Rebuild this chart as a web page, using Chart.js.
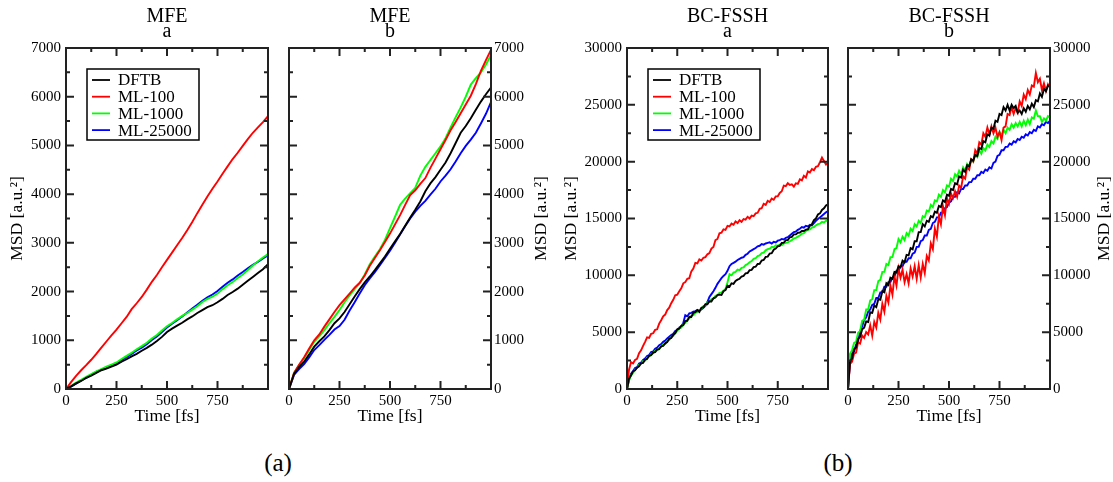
<!DOCTYPE html>
<html>
<head>
<meta charset="utf-8">
<script src="https://cdn.jsdelivr.net/npm/chart.js@4.4.1/dist/chart.umd.min.js"></script>
<style>
  body { margin: 0; background: #fff; }
  #wrap { position: relative; width: 1113px; height: 482px; }
  #wrap canvas { position: absolute; top: 0; }
  .cap { position: absolute; top: 450px; width: 100px; text-align: center;
         font-family: "Liberation Serif", serif; font-size: 25px; line-height: 25px; color: #000; }
</style>
</head>
<body>
<div id="wrap">
  <canvas id="mfeA" width="280" height="440" style="left:0px"></canvas>
  <canvas id="mfeB" width="280" height="440" style="left:280px"></canvas>
  <canvas id="bcA" width="280" height="440" style="left:560px"></canvas>
  <canvas id="bcB" width="275" height="440" style="left:838px"></canvas>
  <div class="cap" style="left:228px">(a)</div>
  <div class="cap" style="left:788px">(b)</div>
</div>
<script>
// time axis (fs)
const timeMFE = [0, 25, 50, 75, 100, 125, 150, 175, 200, 225, 250, 275, 300, 325, 350, 375, 400, 425, 450, 475,
  500, 525, 550, 575, 600, 625, 650, 675, 700, 725, 750, 775, 800, 825, 850, 875, 900, 925, 950, 975, 1000];
const timeBC = [0, 10, 20, 30, 40, 50, 60, 70, 80, 90, 100, 110, 120, 130, 140, 150, 160, 170, 180, 190,
  200, 210, 220, 230, 240, 250, 260, 270, 280, 290, 300, 310, 320, 330, 340, 350, 360, 370, 380, 390,
  400, 410, 420, 430, 440, 450, 460, 470, 480, 490, 500, 510, 520, 530, 540, 550, 560, 570, 580, 590,
  600, 610, 620, 630, 640, 650, 660, 670, 680, 690, 700, 710, 720, 730, 740, 750, 760, 770, 780, 790,
  800, 810, 820, 830, 840, 850, 860, 870, 880, 890, 900, 910, 920, 930, 940, 950, 960, 970, 980, 990, 1000];

const labels = ['DFTB', 'ML-100', 'ML-1000', 'ML-25000'];
const colors = ['#000000', '#ff0000', '#00ff00', '#0000ff'];

// MFE, set a
const mfeA_dftb = [0, 55, 115, 165, 230, 275, 330, 385, 420, 460, 500, 560, 610, 670, 720, 785, 845, 910, 985, 1070,
  1170, 1240, 1300, 1360, 1430, 1490, 1560, 1620, 1680, 1720, 1780, 1850, 1930, 1990, 2060, 2140, 2220, 2300, 2380, 2460, 2560];
const mfeA_ml100 = [0, 140, 270, 385, 490, 600, 720, 850, 975, 1100, 1220, 1350, 1480, 1640, 1760, 1890, 2040, 2200, 2340, 2500,
  2650, 2800, 2950, 3100, 3260, 3430, 3610, 3780, 3950, 4110, 4260, 4420, 4570, 4720, 4850, 4990, 5130, 5260, 5370, 5480, 5600];
const mfeA_ml1000 = [0, 65, 130, 190, 250, 305, 360, 410, 460, 500, 545, 615, 680, 745, 815, 880, 950, 1035, 1110, 1200,
  1290, 1355, 1430, 1500, 1560, 1630, 1700, 1785, 1850, 1895, 1960, 2050, 2130, 2195, 2280, 2350, 2440, 2535, 2620, 2700, 2770];
const mfeA_ml25000 = [0, 50, 110, 175, 230, 290, 350, 395, 440, 485, 525, 590, 655, 720, 790, 850, 920, 1005, 1080, 1170,
  1260, 1340, 1410, 1490, 1570, 1650, 1730, 1810, 1880, 1940, 2010, 2100, 2180, 2250, 2330, 2400, 2480, 2550, 2610, 2680, 2740];

// MFE, set b
const mfeB_dftb = [0, 310, 450, 560, 710, 870, 980, 1080, 1210, 1350, 1450, 1580, 1740, 1900, 2050, 2190, 2310, 2440, 2580, 2720,
  2880, 3030, 3180, 3350, 3520, 3680, 3850, 4060, 4220, 4350, 4500, 4650, 4840, 5050, 5260, 5400, 5560, 5730, 5900, 6050, 6190];
const mfeB_ml100 = [0, 330, 500, 650, 830, 1000, 1120, 1280, 1430, 1580, 1720, 1840, 1960, 2080, 2180, 2330, 2530, 2690, 2850, 3020,
  3190, 3380, 3570, 3780, 3980, 4080, 4210, 4330, 4540, 4730, 4920, 5110, 5310, 5480, 5660, 5840, 6020, 6260, 6530, 6750, 6960];
const mfeB_ml1000 = [0, 330, 490, 630, 800, 970, 1080, 1210, 1350, 1480, 1620, 1780, 1920, 2050, 2170, 2350, 2560, 2720, 2870, 3060,
  3300, 3540, 3780, 3910, 4020, 4130, 4380, 4560, 4700, 4840, 4980, 5150, 5370, 5580, 5780, 6000, 6250, 6380, 6500, 6660, 6850];
const mfeB_ml25000 = [0, 290, 410, 510, 650, 800, 900, 1010, 1110, 1220, 1290, 1420, 1610, 1780, 1960, 2130, 2270, 2400, 2540, 2690,
  2840, 3000, 3170, 3340, 3500, 3640, 3760, 3860, 3990, 4110, 4260, 4380, 4510, 4670, 4840, 4990, 5120, 5260, 5450, 5650, 5890];

// BC-FSSH, set a
const bcA_dftb = [0, 900, 1180, 1550, 1640, 1870, 1990, 2260, 2300, 2580,
  2650, 2920, 2980, 3200, 3240, 3480, 3500, 3760, 3790, 4020,
  4120, 4420, 4480, 4760, 4920, 5250, 5300, 5560, 5620, 5980,
  6000, 6350, 6330, 6700, 6760, 6950, 6780, 7150, 7200, 7460,
  7450, 7720, 7700, 7980, 8050, 8260, 8300, 8280, 8600, 8700,
  9080, 9000, 9300, 9250, 9500, 9620, 9700, 9900, 9950, 10180,
  10200, 10450, 10480, 10720, 10760, 11000, 11020, 11300, 11350, 11620,
  11650, 11920, 11950, 12250, 12350, 12560, 12600, 12850, 12870, 13100,
  13100, 13350, 13380, 13600, 13600, 13750, 13760, 13900, 13900, 14020,
  14050, 14350, 14500, 14850, 15000, 15350, 15450, 15750, 15900, 16150, 16250];
const bcA_ml100 = [0, 1700, 2350, 2250, 2550, 2650, 3150, 3400, 3800, 4150,
  4550, 4500, 4850, 4900, 5200, 5250, 5750, 6050, 6400, 6550,
  6950, 7150, 7550, 7850, 8250, 8300, 8600, 8850, 9300, 9400,
  9700, 9750, 10350, 10600, 11100, 11050, 11400, 11300, 11550, 11600,
  11850, 11950, 12350, 12500, 13100, 13200, 13700, 13750, 14050, 14000,
  14350, 14300, 14550, 14450, 14750, 14600, 14850, 14700, 14950, 14900,
  15150, 15000, 15250, 15200, 15450, 15500, 15850, 15900, 16300, 16200,
  16550, 16450, 16750, 16650, 16950, 16950, 17250, 17400, 17900, 17850,
  18100, 17950, 18000, 17800, 18100, 18050, 18450, 18350, 18750, 18600,
  19150, 19050, 19350, 19250, 19550, 19600, 19950, 20350, 20050, 19750, 19900];
const bcA_ml1000 = [0, 750, 1200, 1420, 1700, 1850, 2120, 2200, 2450, 2500,
  2750, 2850, 3050, 3150, 3350, 3400, 3600, 3700, 3900, 3950,
  4200, 4300, 4550, 4650, 4900, 5100, 5350, 5400, 5700, 5800,
  6100, 6200, 6450, 6500, 6700, 6750, 6950, 7050, 7300, 7350,
  7600, 7700, 7900, 7950, 8200, 8250, 8450, 8500, 8650, 8800,
  9400, 10100, 10000, 10250, 10300, 10500, 10450, 10650, 10700, 10900,
  11000, 11150, 11250, 11450, 11500, 11700, 11750, 11950, 12000, 12200,
  12300, 12350, 12500, 12450, 12650, 12600, 12700, 12650, 12800, 12850,
  12900, 13000, 13100, 13250, 13300, 13400, 13500, 13650, 13700, 13900,
  14000, 14050, 14200, 14250, 14400, 14500, 14550, 14700, 14650, 14800, 14800];
const bcA_ml25000 = [0, 800, 1350, 1580, 1850, 1920, 2250, 2320, 2550, 2680,
  2900, 2980, 3250, 3300, 3550, 3650, 3850, 3950, 4150, 4250,
  4450, 4600, 4750, 4850, 5100, 5200, 5400, 5500, 5800, 6500,
  6400, 6650, 6700, 6800, 6850, 6950, 6900, 7000, 7150, 7300,
  7650, 8100, 8350, 8600, 8900, 9250, 9500, 9750, 9950, 10100,
  10400, 10800, 11000, 11100, 11200, 11350, 11450, 11550, 11600, 11800,
  11900, 12100, 12200, 12300, 12400, 12550, 12600, 12750, 12700, 12800,
  12850, 12900, 12800, 12950, 12900, 13050, 13100, 13200, 13150, 13300,
  13350, 13500, 13650, 13800, 13850, 14000, 14100, 14250, 14200, 14350,
  14300, 14450, 14400, 14600, 14800, 14950, 15100, 15250, 15400, 15550, 15650];

// BC-FSSH, set b
const bcB_dftb = [0, 2400, 2700, 3500, 3650, 4400, 4600, 5250, 5400, 5950,
  5900, 6750, 6700, 7350, 7200, 7900, 7850, 8600, 8500, 9300,
  9150, 9800, 9700, 10300, 10250, 10800, 10700, 11300, 11150, 11800,
  11750, 12400, 12300, 13000, 13000, 13800, 13800, 14500, 14300, 14800,
  14700, 15200, 15100, 15600, 15500, 16100, 16000, 16600, 16450, 17100,
  17000, 17600, 17500, 18100, 18000, 18700, 18600, 19300, 19100, 19700,
  19600, 20200, 20100, 20600, 20500, 21200, 21100, 21800, 21700, 22400,
  22300, 23000, 22900, 23600, 23500, 24200, 24100, 24800, 24500, 25000,
  24500, 25000, 24700, 24900, 24300, 24500, 24200, 24700, 24400, 24900,
  24600, 25100, 24800, 25400, 25300, 26000, 25700, 26400, 26200, 26700, 26600];
const bcB_ml100 = [0, 2200, 2400, 3100, 3200, 4100, 4000, 4700, 4500, 5000,
  4800, 5600, 4700, 5900, 5400, 6700, 6100, 7500, 6800, 8200,
  7600, 9100, 8300, 9900, 9100, 10600, 9800, 10500, 9400, 10100,
  9300, 10600, 9900, 10800, 9700, 10900, 9800, 11000, 10200, 11700,
  11300, 12800, 12300, 14100, 13400, 15200, 14500, 16100, 15300, 16800,
  16300, 17200, 16800, 17400, 16900, 17900, 17700, 18700, 18500, 19500,
  19300, 20200, 20000, 21000, 20700, 21700, 21500, 22500, 22200, 23000,
  22400, 23100, 22500, 23000, 22200, 22600, 21900, 23000, 23100, 24200,
  24100, 24800, 24200, 24700, 24300, 25300, 24900, 25900, 25500, 26300,
  25900, 26700, 26600, 27800, 27000, 27300, 26300, 26900, 26200, 26800, 26500];
const bcB_ml1000 = [0, 3100, 3400, 4050, 4150, 4950, 5100, 6000, 6100, 7000,
  7000, 7800, 7900, 8700, 8700, 9500, 9600, 10300, 10300, 11000,
  10900, 11600, 11600, 12300, 12400, 13200, 12900, 13400, 13100, 13700,
  13500, 14100, 13900, 14500, 14300, 14800, 14600, 15200, 15100, 15700,
  15600, 16200, 16000, 16600, 16500, 17100, 16900, 17500, 17300, 17900,
  17800, 18500, 18300, 18900, 18700, 19200, 18900, 19500, 19200, 19800,
  19600, 20200, 20000, 20600, 20400, 21000, 20700, 21200, 21000, 21500,
  21300, 21800, 21600, 22200, 22000, 22600, 22300, 22800, 22500, 23000,
  22800, 23300, 23000, 23400, 23100, 23500, 23100, 23600, 23200, 23700,
  23300, 23900, 23800, 24500, 24000, 24000, 23500, 23800, 23600, 24000, 23900];
const bcB_ml25000 = [0, 2500, 3100, 3300, 3900, 4200, 5100, 5500, 6100, 6300,
  6800, 7000, 7400, 7500, 8000, 8000, 8500, 8500, 9000, 9000,
  9400, 9400, 9800, 9900, 10400, 10400, 10800, 10800, 11200, 11200,
  11500, 11500, 11900, 12000, 12500, 12500, 13000, 13100, 13500, 13500,
  14000, 14100, 14600, 14700, 15100, 15100, 15500, 15500, 15900, 16000,
  16400, 16500, 16900, 16900, 17300, 17200, 17600, 17600, 17900, 17900,
  18200, 18200, 18500, 18500, 18800, 18800, 19100, 19000, 19300, 19200,
  19500, 19400, 19900, 20000, 20500, 20600, 21000, 21000, 21300, 21300,
  21600, 21500, 21800, 21700, 22000, 21900, 22200, 22100, 22400, 22300,
  22600, 22500, 22800, 22700, 23100, 23000, 23300, 23200, 23500, 23400, 23600];

const FONT = 'Liberation Serif';
Chart.defaults.font.family = FONT;
Chart.defaults.color = '#000';

// frame + inward ticks on all four sides
const frameTicks = {
  id: 'frameTicks',
  afterDatasetsDraw(chart, args, opts) {
    const { ctx, chartArea: a, scales: { x, y } } = chart;
    ctx.save();
    ctx.strokeStyle = '#222';
    ctx.lineWidth = 2;
    ctx.beginPath();
    for (let v = opts.xMinor; v < x.max; v += opts.xMinor) {
      const px = x.getPixelForValue(v);
      const len = v % opts.xMajor === 0 ? 8 : 4;
      ctx.moveTo(px, a.bottom); ctx.lineTo(px, a.bottom - len);
      ctx.moveTo(px, a.top); ctx.lineTo(px, a.top + len);
    }
    for (let v = opts.yMinor; v < y.max; v += opts.yMinor) {
      const py = y.getPixelForValue(v);
      const len = v % opts.yMajor === 0 ? 8 : 4;
      ctx.moveTo(a.left, py); ctx.lineTo(a.left + len, py);
      ctx.moveTo(a.right, py); ctx.lineTo(a.right - len, py);
    }
    ctx.stroke();
    ctx.strokeRect(a.left, a.top, a.right - a.left, a.bottom - a.top);
    ctx.restore();
  }
};

// boxed legend in the upper left of the plot, xmgrace style
const boxLegend = {
  id: 'boxLegend',
  afterDraw(chart, args, opts) {
    if (!opts.show) return;
    const { ctx, chartArea: a } = chart;
    const bx = a.left + 21, by = a.top + 21;
    ctx.save();
    ctx.fillStyle = '#fff';
    ctx.fillRect(bx, by, 112, 71);
    ctx.strokeStyle = '#000';
    ctx.lineWidth = 1.5;
    ctx.strokeRect(bx, by, 112, 71);
    ctx.font = '17px "' + FONT + '"';
    ctx.textBaseline = 'middle';
    chart.data.datasets.forEach((ds, i) => {
      const ry = by + 11 + i * 16.7;
      ctx.strokeStyle = ds.borderColor;
      ctx.lineWidth = 1.8;
      ctx.beginPath();
      ctx.moveTo(bx + 5, ry); ctx.lineTo(bx + 23, ry);
      ctx.stroke();
      ctx.fillStyle = '#000';
      ctx.fillText(ds.label, bx + 31, ry + 1);
    });
    ctx.restore();
  }
};

// y title on the right side, reading bottom to top like the left one
const rightTitle = {
  id: 'rightTitle',
  afterDraw(chart, args, opts) {
    if (!opts.x) return;
    const { ctx, chartArea: a } = chart;
    ctx.save();
    ctx.translate(opts.x, (a.top + a.bottom) / 2);
    ctx.rotate(-Math.PI / 2);
    ctx.font = '17.5px "' + FONT + '"';
    ctx.fillStyle = '#000';
    ctx.textAlign = 'center';
    ctx.textBaseline = 'middle';
    ctx.fillText('MSD [a.u.²]', 0, 0);
    ctx.restore();
  }
};

function makePanel(id, times, series, p) {
  const datasets = series.map((vals, i) => ({
    label: labels[i],
    data: times.map((t, k) => ({ x: t, y: vals[k] })),
    borderColor: colors[i],
    borderWidth: 1.9,
    pointRadius: 0,
    tension: 0
  }));
  const left = p.side === 'left';
  return new Chart(document.getElementById(id), {
    type: 'line',
    data: { datasets },
    plugins: [frameTicks, boxLegend, rightTitle],
    options: {
      responsive: false,
      animation: false,
      devicePixelRatio: 1,
      layout: { padding: { left: p.padL, right: p.padR, top: 0, bottom: 0 } },
      plugins: {
        legend: { display: false },
        tooltip: { enabled: false },
        title: {
          display: true,
          text: [p.title, p.sub],
          fullSize: false,
          color: '#000',
          font: { size: 20, weight: 'normal', lineHeight: '15px' },
          padding: { top: 9, bottom: 9 }
        },
        frameTicks: { xMajor: 250, xMinor: 125, yMajor: p.step, yMinor: p.step / 2 },
        boxLegend: { show: p.legend },
        rightTitle: { x: left ? 0 : p.titleX }
      },
      scales: {
        x: {
          type: 'linear',
          min: 0,
          max: 1000,
          grid: { display: false, drawTicks: false },
          border: { display: false },
          ticks: {
            stepSize: 250,
            padding: 3,
            maxRotation: 0,
            autoSkip: false,
            font: { size: 15, lineHeight: 1.2 },
            callback: v => (v < 1000 ? v : '')
          },
          title: {
            display: true,
            text: 'Time [fs]',
            font: { size: 17.5, lineHeight: 1 },
            padding: { top: 0, bottom: 15 }
          },
          afterFit: s => { s.height = 51; }
        },
        y: {
          type: 'linear',
          position: p.side,
          min: 0,
          max: p.max,
          grid: { display: false, drawTicks: false },
          border: { display: false },
          ticks: {
            stepSize: p.step,
            padding: left ? 5 : 3,
            font: { size: 15 },
            callback: v => v
          },
          title: {
            display: left,
            text: 'MSD [a.u.²]',
            font: { size: 17.5, lineHeight: 1 },
            padding: { top: p.titlePad || 0, bottom: 0 }
          },
          afterFit: s => { s.width = p.yW; }
        }
      }
    }
  });
}

makePanel('mfeA', timeMFE, [mfeA_dftb, mfeA_ml100, mfeA_ml1000, mfeA_ml25000],
  { side: 'left', padL: 0, padR: 12, yW: 66, max: 7000, step: 1000, title: 'MFE', sub: 'a', legend: true, titlePad: 9 });
makePanel('mfeB', timeMFE, [mfeB_dftb, mfeB_ml100, mfeB_ml1000, mfeB_ml25000],
  { side: 'right', padL: 9, padR: 0, yW: 69, max: 7000, step: 1000, title: 'MFE', sub: 'b', legend: false, titleX: 261 });
makePanel('bcA', timeBC, [bcA_dftb, bcA_ml100, bcA_ml1000, bcA_ml25000],
  { side: 'left', padL: 0, padR: 12, yW: 67, max: 30000, step: 5000, title: 'BC-FSSH', sub: 'a', legend: true, titlePad: 3 });
makePanel('bcB', timeBC, [bcB_dftb, bcB_ml100, bcB_ml1000, bcB_ml25000],
  { side: 'right', padL: 10, padR: 0, yW: 63, max: 30000, step: 5000, title: 'BC-FSSH', sub: 'b', legend: false, titleX: 266 });
</script>
</body>
</html>
